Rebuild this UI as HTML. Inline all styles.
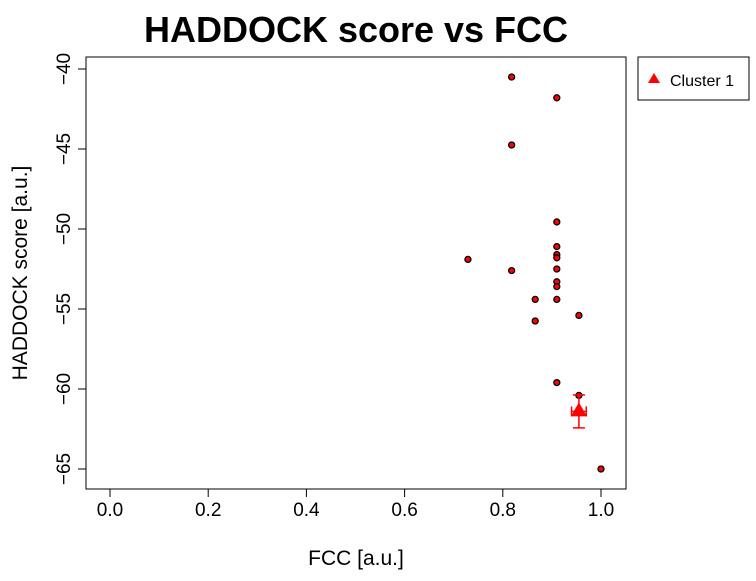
<!DOCTYPE html>
<html><head><meta charset="utf-8"><style>
body{margin:0;background:#fff;font-family:"Liberation Sans",sans-serif}
</style></head><body>
<svg width="756" height="576" xmlns="http://www.w3.org/2000/svg" font-family="Liberation Sans, sans-serif">
<text x="356" y="42" text-anchor="middle" font-size="36" font-weight="bold">HADDOCK score vs FCC</text>
<rect x="86" y="57" width="540" height="432" fill="none" stroke="#000"/>
<g id="xaxis"></g>
<g id="yaxis"></g>
<text x="356" y="565" text-anchor="middle" font-size="21">FCC [a.u.]</text>
<text transform="translate(27,273) rotate(-90)" text-anchor="middle" font-size="21">HADDOCK score [a.u.]</text>
<g id="points"></g>
<g id="cluster"></g>
<g>
<rect x="638" y="57" width="111" height="43" fill="#fff" stroke="#000"/>
<polygon points="654,73 660,83 648,83" fill="red"/>
<text x="670" y="86" font-size="16">Cluster 1</text>
</g>
</svg>
<script>
const xTicks=[0,0.2,0.4,0.6,0.8,1.0];
const xTickLabels=["0.0","0.2","0.4","0.6","0.8","1.0"];
const yTicks=[-40,-45,-50,-55,-60,-65];
const yTickLabels=["−40","−45","−50","−55","−60","−65"];
const fcc=[0.818,0.910,0.818,0.910,0.910,0.910,0.910,0.729,0.818,0.910,0.910,0.910,0.866,0.910,0.955,0.866,0.910,0.955,1.0];
const score=[-40.5,-41.8,-44.75,-49.56,-51.1,-51.6,-51.8,-51.9,-52.6,-52.5,-53.3,-53.6,-54.4,-54.4,-55.4,-55.75,-59.6,-60.4,-65.0];
const clusterX=[0.955];const clusterY=[-61.4];const clusterXErr=[0.015];const clusterYErr=[1.03];
const sx=v=>110+v*491, sy=v=>69+(-40-v)*16;
const NS="http://www.w3.org/2000/svg";
function mk(t,a,p){const e=document.createElementNS(NS,t);for(const k in a)e.setAttribute(k,a[k]);p.appendChild(e);return e;}
const xa=document.getElementById('xaxis'),ya=document.getElementById('yaxis');
mk('line',{x1:sx(0),x2:sx(1),y1:489,y2:489,stroke:'#000'},xa);
xTicks.forEach((t,i)=>{mk('line',{x1:sx(t),x2:sx(t),y1:489,y2:497,stroke:'#000'},xa);
const tx=mk('text',{x:sx(t),y:516,'text-anchor':'middle','font-size':19},xa);tx.textContent=xTickLabels[i];

});
mk('line',{x1:86,x2:86,y1:sy(-40),y2:sy(-65),stroke:'#000'},ya);
yTicks.forEach((t,i)=>{mk('line',{x1:78,x2:86,y1:sy(t),y2:sy(t),stroke:'#000'},ya);
const tx=mk('text',{transform:`translate(70,${sy(t)}) rotate(-90)`,'text-anchor':'middle','font-size':19},ya);tx.textContent=yTickLabels[i];

});
const pg=document.getElementById('points');
fcc.forEach((v,i)=>{const c=mk('circle',{cx:sx(v),cy:sy(score[i]),r:3,fill:'red',stroke:'#000','stroke-width':1.3},pg);

});
const cg=document.getElementById('cluster');
clusterX.forEach((v,i)=>{const x=sx(v),y=sy(clusterY[i]);
const y1=sy(clusterY[i]+clusterYErr[i]),y2=sy(clusterY[i]-clusterYErr[i]);
const x1=sx(v-clusterXErr[i]),x2=sx(v+clusterXErr[i]);
const s={stroke:'red','stroke-width':1.5};
mk('line',{x1:x,x2:x,y1:y1,y2:y2,...s},cg);mk('line',{x1:x-6,x2:x+6,y1:y1,y2:y1,...s},cg);mk('line',{x1:x-6,x2:x+6,y1:y2,y2:y2,...s},cg);
mk('line',{x1:x1,x2:x2,y1:y,y2:y,...s},cg);mk('line',{x1:x1,x2:x1,y1:y-5,y2:y+5,...s},cg);mk('line',{x1:x2,x2:x2,y1:y-5,y2:y+5,...s},cg);
const t=mk('polygon',{points:`${x},${y-9} ${x+8},${y+5} ${x-8},${y+5}`,fill:'red'},cg);

});
</script>
</body></html>
